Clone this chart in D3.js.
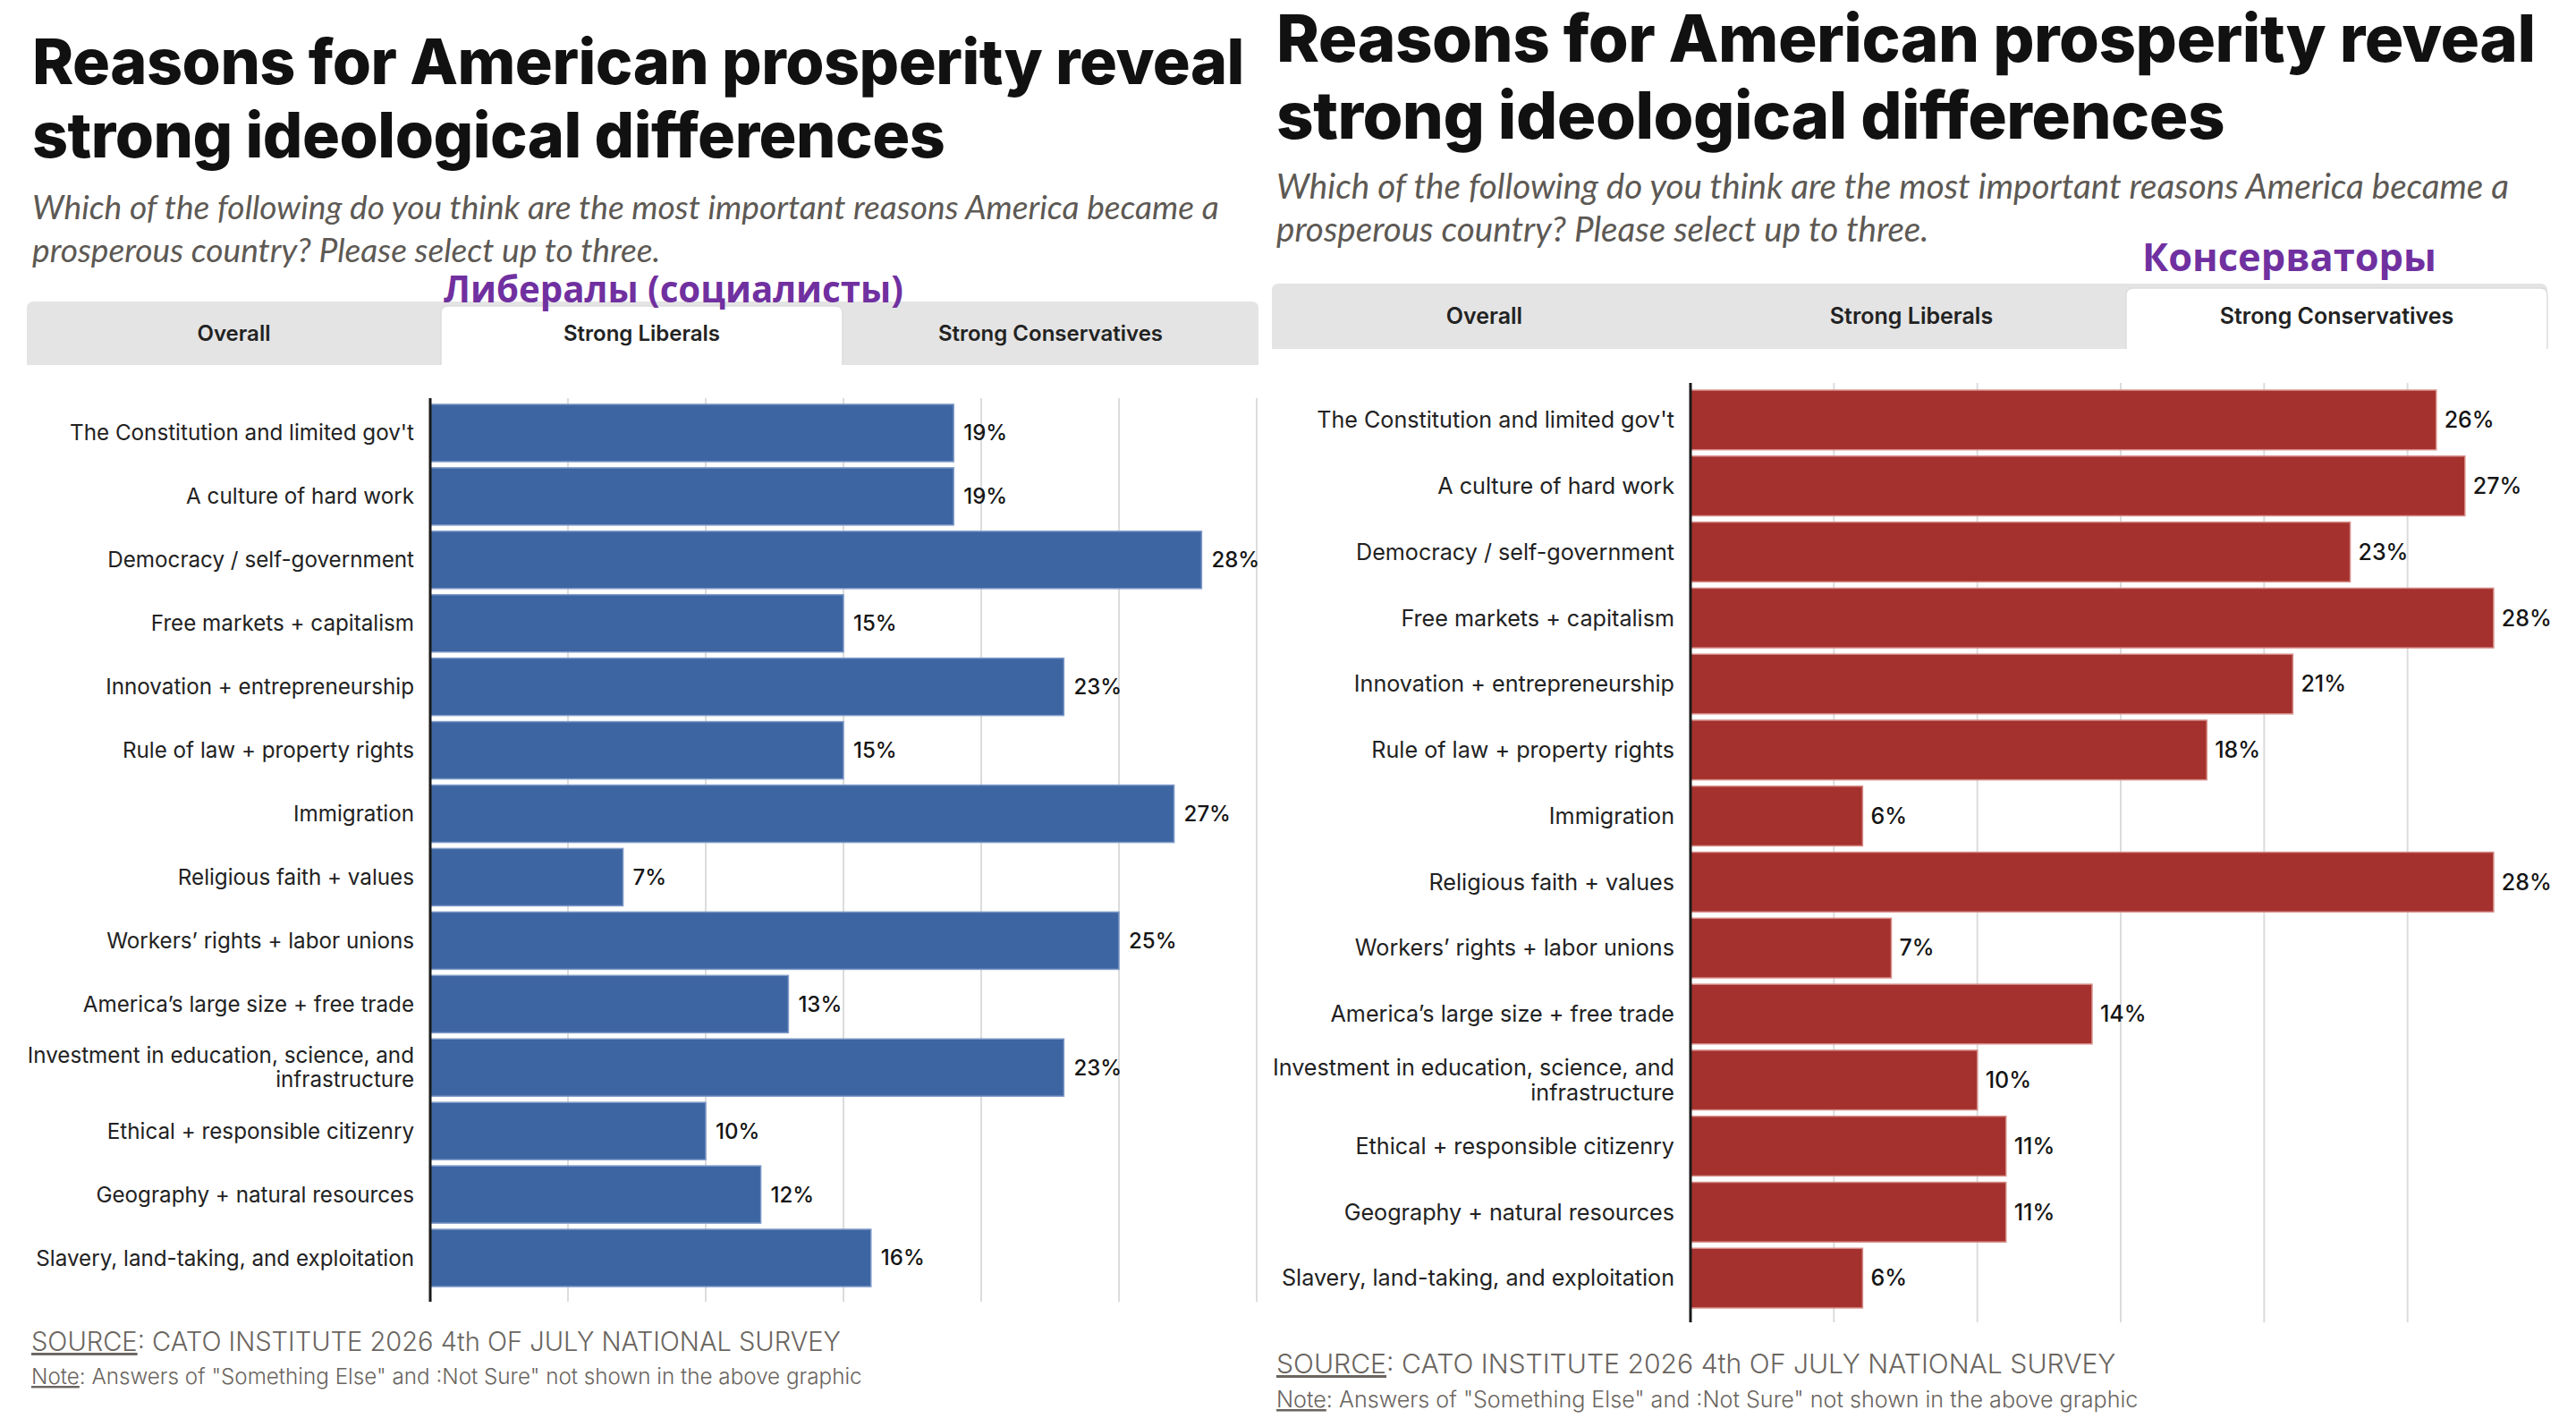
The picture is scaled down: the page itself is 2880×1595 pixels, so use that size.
<!DOCTYPE html>
<html>
<head>
<meta charset="utf-8">
<script src="https://cdn.jsdelivr.net/npm/d3@7"></script>
<style>
  html, body { margin: 0; padding: 0; background: #ffffff; }
  svg { display: block; }
</style>
</head>
<body>
<svg id="chart" width="2880" height="1595"></svg>
<script>
// ---------------- DATA ----------------
const categories = [
  "The Constitution and limited gov't",
  "A culture of hard work",
  "Democracy / self-government",
  "Free markets + capitalism",
  "Innovation + entrepreneurship",
  "Rule of law + property rights",
  "Immigration",
  "Religious faith + values",
  "Workers\u2019 rights + labor unions",
  "America\u2019s large size + free trade",
  "Investment in education, science, and infrastructure",
  "Ethical + responsible citizenry",
  "Geography + natural resources",
  "Slavery, land-taking, and exploitation"
];
const liberalValues      = [19, 19, 28, 15, 23, 15, 27, 7, 25, 13, 23, 10, 12, 16];
const conservativeValues = [26, 27, 23, 28, 21, 18, 6, 28, 7, 14, 10, 11, 11, 6];
const tickValuesLeft  = [5, 10, 15, 20, 25, 30];
const tickValuesRight = [5, 10, 15, 20, 25];
const tabLabels = ["Overall", "Strong Liberals", "Strong Conservatives"];
const titleLines = ["Reasons for American prosperity reveal", "strong ideological differences"];
const subtitleLines = [
  "Which of the following do you think are the most important reasons America became a",
  "prosperous country? Please select up to three."
];
const annotations = ["Либералы (социалисты)", "Консерваторы"];
const sourceRest = ": CATO INSTITUTE 2026 4th OF JULY NATIONAL SURVEY";
const noteRest = ": Answers of \"Something Else\" and :Not Sure\" not shown in the above graphic";

// ---------------- LAYOUT ----------------
const panels = [
  {
    values: liberalValues, ticks: tickValuesLeft, color: "#3d65a2", stroke: "#7f9bc9", active: 1, annotation: annotations[0],
    title: { x: 36, base: [94, 176], width: 1355 },
    sub: { x: 36, base: [245, 293], width: 1327 },
    annot: { x: 496, base: 338, width: 514 },
    tabs: { bounds: [30, 493, 942, 1407], y0: 337, y1: 408, activeTop: 342, fs: 24 },
    xRange: [481, 1405], axisY: [445, 1455], band: [448.5, 1441.5],
    labelWidth: 385, labelGap: 18, valueGap: 11, valueFs: 24,
    source: { x: 35, base: 1510, width: 905 }, note: { base: 1547, width: 929 }
  },
  {
    values: conservativeValues, ticks: tickValuesRight, color: "#a4312d", stroke: "#d58a86", active: 2, annotation: annotations[1],
    title: { x: 1427, base: [69, 155], width: 1407 },
    sub: { x: 1427, base: [222, 270], width: 1378 },
    annot: { x: 2395, base: 303, width: 329 },
    tabs: { bounds: [1422, 1897, 2377, 2848], y0: 317, y1: 390, activeTop: 322, fs: 25 },
    xRange: [1890, 2852], axisY: [428, 1478], band: [432.5, 1465.5],
    labelWidth: 400, labelGap: 18, valueGap: 9, valueFs: 25,
    source: { x: 1427, base: 1535, width: 939 }, note: { base: 1573, width: 964 }
  }
];

const svg = d3.select("#chart");

function fit(sel, target) {
  const w = sel.node().getComputedTextLength();
  const fs = parseFloat(sel.attr("font-size"));
  sel.attr("font-size", (fs * target / w).toFixed(2));
  return sel;
}

function splitLabel(s) {
  if (s.startsWith("Investment in education")) return ["Investment in education, science, and", "infrastructure"];
  return [s];
}

panels.forEach(p => {
  const g = svg.append("g");

  // Title
  let titleFs = null;
  titleLines.forEach((t, i) => {
    const el = g.append("text").attr("x", p.title.x).attr("y", p.title.base[i])
      .attr("font-family", "Inter, 'Noto Sans', sans-serif").attr("font-weight", 800)
      .attr("font-size", 70).attr("fill", "#111111").attr("letter-spacing", -0.5).text(t);
    if (i === 0) { fit(el, p.title.width); titleFs = el.attr("font-size"); }
    else el.attr("font-size", titleFs);
  });

  // Subtitle
  let subFs = null;
  subtitleLines.forEach((t, i) => {
    const el = g.append("text").attr("x", p.sub.x).attr("y", p.sub.base[i])
      .attr("font-family", "Lato, 'Open Sans', sans-serif").attr("font-style", "italic")
      .attr("font-size", 32).attr("fill", "#5d5954").text(t);
    if (i === 0) { fit(el, p.sub.width); subFs = el.attr("font-size"); }
    else el.attr("font-size", subFs);
  });

  // Tabs
  const tb = p.tabs.bounds;
  g.append("path")
    .attr("d", `M${tb[0]},${p.tabs.y1} V${p.tabs.y0 + 8} Q${tb[0]},${p.tabs.y0} ${tb[0] + 8},${p.tabs.y0} H${tb[3] - 8} Q${tb[3]},${p.tabs.y0} ${tb[3]},${p.tabs.y0 + 8} V${p.tabs.y1} Z`)
    .attr("fill", "#e4e4e4");
  const a0 = tb[p.active], a1 = tb[p.active + 1], at = p.tabs.activeTop;
  g.append("path")
    .attr("d", `M${a0},${p.tabs.y1 + 1} V${at + 8} Q${a0},${at} ${a0 + 8},${at} H${a1 - 8} Q${a1},${at} ${a1},${at + 8} V${p.tabs.y1 + 1} Z`)
    .attr("fill", "#ffffff");
  g.append("path")
    .attr("d", `M${a0},${p.tabs.y1} V${at + 8} Q${a0},${at} ${a0 + 8},${at} H${a1 - 8} Q${a1},${at} ${a1},${at + 8} V${p.tabs.y1}`)
    .attr("fill", "none").attr("stroke", "#dddddd").attr("stroke-width", 1.5);
  tabLabels.forEach((t, i) => {
    g.append("text").attr("x", (tb[i] + tb[i + 1]) / 2).attr("y", (p.tabs.y0 + p.tabs.y1) / 2)
      .attr("dy", "0.35em").attr("text-anchor", "middle")
      .attr("font-family", "Inter, 'Noto Sans', sans-serif").attr("font-weight", 600)
      .attr("font-size", p.tabs.fs).attr("fill", "#222222").text(t);
  });

  // Annotation (purple)
  const an = g.append("text").attr("x", p.annot.x).attr("y", p.annot.base)
    .attr("font-family", "'Open Sans', 'Noto Sans', sans-serif").attr("font-weight", 700)
    .attr("font-size", 40).attr("fill", "#7030a0").text(p.annotation);
  fit(an, p.annot.width);

  // Scales
  const x = d3.scaleLinear().domain([0, 30]).range(p.xRange);
  const y = d3.scaleBand().domain(categories).range(p.band).paddingInner(0.097).paddingOuter(0.0485);

  // Gridlines
  g.append("g").selectAll("line").data(p.ticks).join("line")
    .attr("x1", d => x(d)).attr("x2", d => x(d))
    .attr("y1", p.axisY[0]).attr("y2", p.axisY[1])
    .attr("stroke", "#dcdcdc").attr("stroke-width", 2);

  // Bars
  g.append("g").selectAll("rect").data(categories).join("rect")
    .attr("x", x(0)).attr("y", d => y(d))
    .attr("width", (d, i) => x(p.values[i]) - x(0))
    .attr("height", y.bandwidth())
    .attr("fill", p.color).attr("stroke", p.stroke).attr("stroke-width", 1.5);

  // Axis line
  g.append("line").attr("x1", x(0)).attr("x2", x(0)).attr("y1", p.axisY[0]).attr("y2", p.axisY[1])
    .attr("stroke", "#1a1a1a").attr("stroke-width", 3);

  // Category labels
  const probe = g.append("text").attr("font-family", "Inter, 'Noto Sans', sans-serif")
    .attr("font-size", 25).text(categories[0]);
  fit(probe, p.labelWidth);
  const labFs = +probe.attr("font-size");
  probe.remove();

  categories.forEach(c => {
    const lines = splitLabel(c);
    const t = g.append("text").attr("x", x(0) - p.labelGap)
      .attr("y", y(c) + y.bandwidth() / 2)
      .attr("text-anchor", "end").attr("font-family", "Inter, 'Noto Sans', sans-serif")
      .attr("font-size", labFs).attr("fill", "#222222");
    const lh = labFs * 1.12;
    lines.forEach((l, j) => {
      t.append("tspan").attr("x", x(0) - p.labelGap)
        .attr("dy", j === 0 ? `${(0.35 - (lines.length - 1) * 0.56).toFixed(2)}em` : `${lh}px`)
        .text(l);
    });
  });

  // Value labels
  g.append("g").selectAll("text").data(categories).join("text")
    .attr("x", (d, i) => x(p.values[i]) + p.valueGap)
    .attr("y", d => y(d) + y.bandwidth() / 2).attr("dy", "0.35em")
    .attr("font-family", "Inter, 'Noto Sans', sans-serif").attr("font-weight", 500)
    .attr("font-size", p.valueFs).attr("fill", "#151515")
    .text((d, i) => p.values[i] + "%");

  // Source and note
  const src = g.append("text").attr("x", p.source.x).attr("y", p.source.base)
    .attr("font-family", "Inter, 'Noto Sans', sans-serif").attr("font-weight", 300)
    .attr("font-size", 30).attr("fill", "#6a655f");
  src.append("tspan").attr("text-decoration", "underline").text("SOURCE");
  src.append("tspan").text(sourceRest);
  fit(src, p.source.width);

  const nt = g.append("text").attr("x", p.source.x).attr("y", p.note.base)
    .attr("font-family", "Inter, 'Noto Sans', sans-serif").attr("font-weight", 300)
    .attr("font-size", 24).attr("fill", "#6a655f");
  nt.append("tspan").attr("text-decoration", "underline").text("Note");
  nt.append("tspan").text(noteRest);
  fit(nt, p.note.width);
});
</script>
</body>
</html>
